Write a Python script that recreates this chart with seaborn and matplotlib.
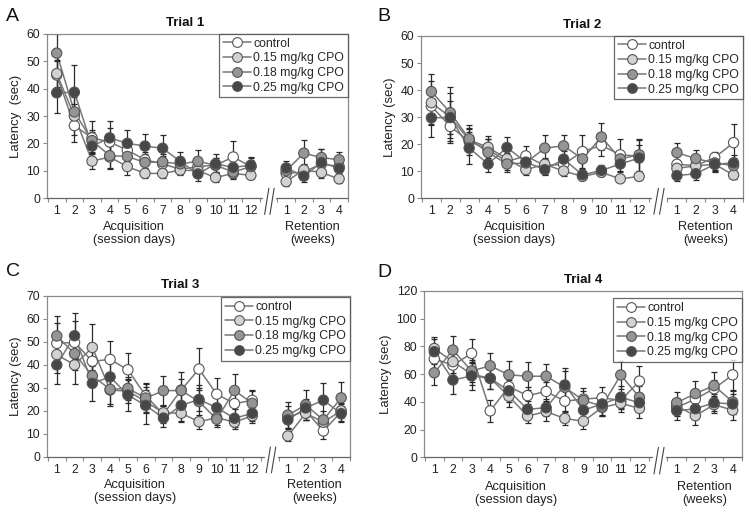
import numpy as np
import pandas as pd
import matplotlib
matplotlib.use("Agg")
import matplotlib.pyplot as plt
import matplotlib.transforms as mtransforms
from matplotlib.lines import Line2D
import seaborn as sns

# ---------------- data ----------------
series = ["control", "0.15 mg/kg CPO", "0.18 mg/kg CPO", "0.25 mg/kg CPO"]
acq_days = list(range(1, 13))
ret_weeks = [1, 2, 3, 4]
acq_labels = [str(d) for d in acq_days]
ret_labels = [str(w) for w in ret_weeks]

# Trial 1 (12 acquisition days + 4 retention weeks)
t1_control = [45, 26.5, 22, 20.5, 17.5, 14, 12.5, 10.5, 11.5, 12, 15, 11.5, 9, 9.5, 12.5, 11.5]
t1_c015 = [45.5, 30, 13.5, 15, 11.5, 9, 9, 10.2, 10, 7.5, 9, 8.3, 6, 10.3, 9.3, 7]
t1_c018 = [53, 31.5, 21, 15.5, 15.2, 13, 13.2, 12.5, 13.4, 12, 9.5, 11.5, 10, 16.4, 14.8, 14]
t1_c025 = [38.5, 38.7, 19, 22, 20, 19, 18.2, 13.4, 8.8, 12.5, 11.2, 12, 11, 8, 13, 10.8]
t1_e_control = [5, 6, 6, 5, 4, 3, 3, 2, 2.5, 2.5, 6, 3, 3, 2.5, 3, 2.5]
t1_e_c015 = [5, 7, 3, 4, 3, 1.5, 1.5, 1.5, 1.5, 1.5, 1.5, 1.5, 1.5, 2, 2, 1.5]
t1_e_c018 = [7, 3, 4, 5, 3, 3, 3, 2.5, 4, 2.5, 2.5, 2.5, 2, 5, 3, 3]
t1_e_c025 = [7.5, 10, 5, 6, 5, 4.5, 5, 3.5, 2.5, 3.5, 3, 3, 2.5, 2, 5, 2.5]

# Trial 2
t2_control = [34, 26.5, 21, 18, 13.5, 15.6, 12, 12.5, 17.2, 19.5, 16, 15.5, 12.5, 12, 15, 20.5]
t2_c015 = [35.3, 30, 21.5, 18.8, 14.5, 10.5, 12.5, 10, 8, 9.5, 7.1, 8, 11, 11.9, 12.5, 8.5]
t2_c018 = [39.4, 31.6, 21.9, 16.9, 12.6, 13, 18.5, 19.3, 14.5, 22.6, 14.5, 16, 16.8, 14.6, 13, 12]
t2_c025 = [29.7, 29.8, 18.5, 12.6, 18.7, 13.3, 10.5, 14.4, 8.6, 10.2, 12.6, 14.8, 8.3, 9, 12.5, 13]
t2_e_control = [7, 6, 5, 4, 3, 3.5, 3, 3, 6, 4, 6, 6, 3, 3, 2, 7]
t2_e_c015 = [8, 9, 4, 4, 3, 2, 2, 2, 1.5, 1.5, 1, 1.5, 2, 2, 2, 1.5]
t2_e_c018 = [6.5, 9.5, 5, 5, 3, 3, 5, 4, 4, 5, 3, 6, 3.5, 3, 3, 3]
t2_e_c025 = [7, 6, 6, 3, 4, 3, 2, 3, 2, 2, 3, 5, 2, 2.5, 3, 3]

# Trial 3
t3_control = [49.3, 49.7, 41.5, 42.3, 37.8, 26.5, 18.5, 29, 38.1, 27.2, 23.1, 24.5, 17, 20, 11.2, 19.5]
t3_c015 = [44.4, 39.9, 47.5, 29, 28.5, 24, 19.1, 18.9, 15.2, 17, 15, 17.8, 9, 18.9, 15, 20]
t3_c018 = [52.5, 44.8, 35.2, 29.3, 29.7, 25.5, 28.7, 28.8, 24, 16.3, 28.8, 23.2, 18.1, 22.5, 16, 25.6]
t3_c025 = [39.9, 52.6, 31.9, 34.7, 26.8, 22.3, 16.8, 22.3, 24.9, 21.3, 16.7, 18.9, 16, 21.2, 24.6, 18.7]
t3_e_control = [9, 9.5, 6, 8, 7.5, 5.5, 4, 5, 9, 7, 5, 4.5, 5, 4, 3.5, 4]
t3_e_c015 = [8, 8.5, 10, 7, 5, 5, 3, 3.5, 3, 3, 3, 3, 2, 3, 3, 3]
t3_e_c018 = [8.5, 7, 5, 6.5, 5, 6, 6.5, 8, 7, 3.5, 7, 5.5, 5.5, 6.5, 4, 7]
t3_e_c025 = [8.5, 10, 7.5, 7, 7, 8, 4, 7, 5, 5, 4, 3.5, 3.5, 4, 7.5, 3.5]

# Trial 4
t4_control = [71, 66.5, 75, 33.5, 51, 44.5, 47.5, 40.5, 42, 43, 41, 55, 36, 42, 49.5, 59.5]
t4_c015 = [78.5, 69, 60, 57, 44, 29.8, 33, 28, 26, 36, 39, 35.3, 37, 30, 38, 34]
t4_c018 = [61, 77.4, 62.3, 66, 59.5, 58.5, 58.5, 50.5, 41, 37, 59.4, 43.3, 39.4, 46, 51.7, 40]
t4_c025 = [76.2, 55.8, 58.7, 57, 48, 34.6, 35.8, 52.2, 34, 38.5, 43.3, 39.4, 33.6, 35, 39.4, 38.5]
t4_e_control = [8, 8, 10, 8, 7, 6, 7, 7, 6, 8, 6, 11, 6, 7, 6, 11]
t4_e_c015 = [8, 8, 8, 8, 8, 5, 7, 5, 5.5, 6, 6, 7, 6, 6.5, 6, 7]
t4_e_c018 = [9, 10, 8, 9, 10, 10, 9, 12, 9, 7, 10, 8, 8, 9, 10, 8]
t4_e_c025 = [9, 10, 10, 8, 8, 6, 6, 12, 7, 8, 8, 7, 7, 7, 6, 7]

titles = ["Trial 1", "Trial 2", "Trial 3", "Trial 4"]
letters = ["A", "B", "C", "D"]
ylabels = ["Latency  (sec)", "Latency (sec)", "Latency (sec)", "Latency (sec)"]

# ---------------- style ----------------
sns.set_theme(style="white")
plt.rcParams["font.family"] = ["Liberation Sans", "DejaVu Sans"]

face = {series[0]: "#ffffff", series[1]: "#d2d2d2", series[2]: "#959595", series[3]: "#474747"}
line_gray = "#777777"
edge = "#555555"
frame = "#8a8a8a"
RET_OFF = 13


def build_df(means, errs):
    rows = []
    for s, m, e in zip(series, means, errs):
        for i, d in enumerate(acq_days):
            rows.append(dict(series=s, x=d, y=m[i], err=e[i], seg=s + "_acq"))
        for j, w in enumerate(ret_weeks):
            rows.append(dict(series=s, x=RET_OFF + w, y=m[12 + j], err=e[12 + j], seg=s + "_ret"))
    return pd.DataFrame(rows)


def draw(ax, df, ymax, ystep, title, title_x, letter, ylabel, leg_y):
    sns.lineplot(data=df, x="x", y="y", hue="series", units="seg", estimator=None,
                 palette={s: line_gray for s in series}, legend=False, ax=ax,
                 linewidth=1.1, zorder=1)
    for s in series:
        sub = df[df.series == s]
        ax.errorbar(sub.x, sub.y, yerr=sub.err, fmt="none", ecolor="#2a2a2a",
                    elinewidth=0.9, capsize=2.2, capthick=0.9, zorder=2)
    sns.scatterplot(data=df, x="x", y="y", hue="series", palette=face, edgecolor=edge,
                    linewidth=0.8, s=55, legend=False, ax=ax, zorder=3)

    xl, xr = 0.45, 17.5
    ax.set_xlim(xl, xr)
    ax.set_ylim(0, ymax)
    ax.set_yticks(np.arange(0, ymax + 0.1, ystep))
    ax.set_xticks(acq_days + [RET_OFF + w for w in ret_weeks])
    ax.set_xticklabels(acq_labels + ret_labels)
    ax.set_xticks([d + 0.5 for d in range(0, 13)] + [RET_OFF + w - 0.5 for w in ret_weeks] + [RET_OFF + 4.5],
                  minor=True)
    ax.tick_params(axis="x", which="major", length=0, labelsize=8.8, pad=5, colors="#222222")
    ax.tick_params(axis="x", which="minor", length=3, width=0.8, color=frame, direction="out", bottom=True)
    ax.tick_params(axis="y", which="major", length=3, width=0.8, color=frame, direction="out",
                   labelsize=8.8, pad=2, left=True, labelcolor="#222222")
    ax.set_xlabel("")
    ax.set_ylabel(ylabel, fontsize=9.5, labelpad=3, color="#222222")

    for sp in ["top", "right", "left"]:
        ax.spines[sp].set_color(frame)
        ax.spines[sp].set_linewidth(0.9)
    ax.spines["bottom"].set_visible(False)

    trans = mtransforms.blended_transform_factory(ax.transData, ax.transAxes)
    ax.plot([xl, 12.65], [0, 0], transform=trans, color="#666666", lw=0.9, clip_on=False, zorder=4)
    ax.plot([13.45, xr], [0, 0], transform=trans, color="#666666", lw=0.9, clip_on=False, zorder=4)
    ax.plot([12.78, 13.02], [-0.1, 0.06], transform=trans, color="#444444", lw=0.8, clip_on=False)
    ax.plot([13.08, 13.32], [-0.1, 0.06], transform=trans, color="#444444", lw=0.8, clip_on=False)

    ax.text(5.4, -0.14, "Acquisition\n(session days)", transform=trans, ha="center", va="top",
            fontsize=9.2, linespacing=1.12, color="#222222")
    ax.text(RET_OFF + 2.5, -0.14, "Retention\n(weeks)", transform=trans, ha="center", va="top",
            fontsize=9.2, linespacing=1.12, color="#222222")

    ax.text(title_x, 1.03, title, transform=ax.transAxes, ha="center", va="bottom",
            fontsize=9.5, fontweight="bold", color="#111111")

    handles = [Line2D([0], [0], color=line_gray, lw=1.1, marker="o", markersize=7,
                      markerfacecolor=face[s], markeredgecolor=edge, markeredgewidth=0.8)
               for s in series]
    leg = ax.legend(handles, series, loc="upper right", bbox_to_anchor=(1.0, leg_y),
                    frameon=True, fancybox=False, fontsize=8.8, handlelength=2.3,
                    handletextpad=0.2, borderpad=0.3, labelspacing=0.22, borderaxespad=0)
    leg.get_frame().set_edgecolor("#444444")
    leg.get_frame().set_linewidth(0.9)


fig = plt.figure(figsize=(7.51, 5.15), dpi=100)
rects = [[0.0626, 0.6155, 0.4007, 0.3185],
         [0.5606, 0.6155, 0.4288, 0.3146],
         [0.0626, 0.1132, 0.4035, 0.3126],
         [0.5646, 0.1120, 0.4234, 0.3230]]
panel_data = [
    ([t1_control, t1_c015, t1_c018, t1_c025], [t1_e_control, t1_e_c015, t1_e_c018, t1_e_c025], 60, 10),
    ([t2_control, t2_c015, t2_c018, t2_c025], [t2_e_control, t2_e_c015, t2_e_c018, t2_e_c025], 60, 10),
    ([t3_control, t3_c015, t3_c018, t3_c025], [t3_e_control, t3_e_c015, t3_e_c018, t3_e_c025], 70, 10),
    ([t4_control, t4_c015, t4_c018, t4_c025], [t4_e_control, t4_e_c015, t4_e_c018, t4_e_c025], 120, 20),
]
title_xs = [0.46, 0.5, 0.44, 0.5]
leg_ys = [1.0, 1.0, 0.99, 0.955]
letter_pos = [(0.008, 0.985), (0.502, 0.985), (0.008, 0.49), (0.502, 0.488)]

for i in range(4):
    ax = fig.add_axes(rects[i])
    means, errs, ymax, ystep = panel_data[i]
    df = build_df(means, errs)
    draw(ax, df, ymax, ystep, titles[i], title_xs[i], letters[i], ylabels[i], leg_ys[i])
    fig.text(letter_pos[i][0], letter_pos[i][1], letters[i], ha="left", va="top",
             fontsize=14, color="#111111")

fig.savefig("out.png", dpi=100, facecolor="white")
